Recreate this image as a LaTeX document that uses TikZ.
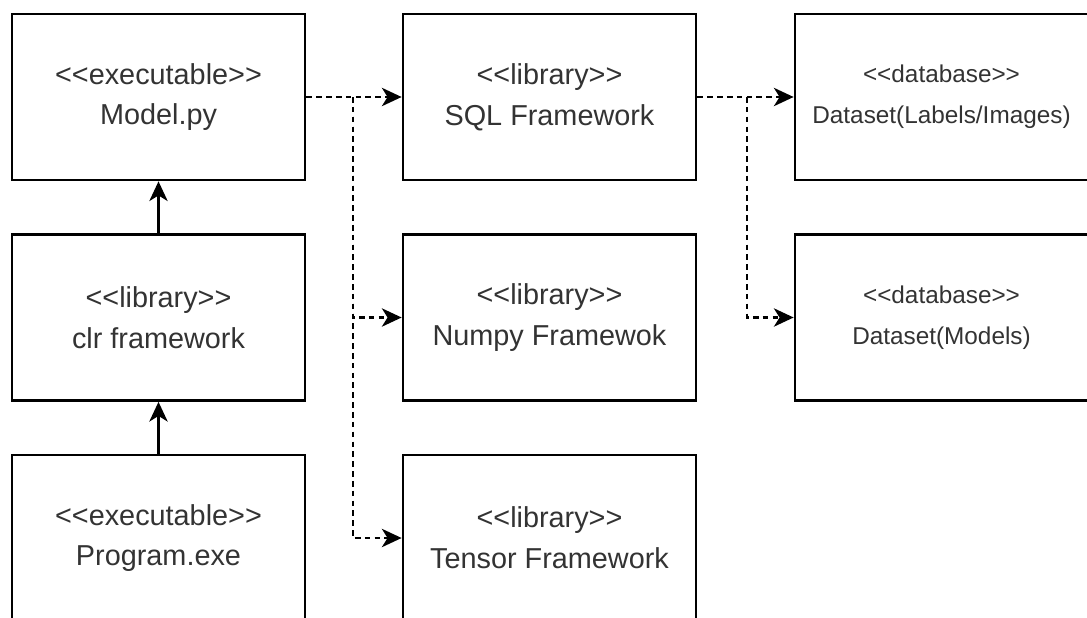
\documentclass[tikz,border=0pt]{standalone}
\usepackage{fontspec}
\setmainfont{Liberation Sans}[Ligatures=TeXOff]
\usetikzlibrary{arrows.meta}
\definecolor{labelgray}{HTML}{333333}

\begin{document}
\begin{tikzpicture}[x=0.025cm, y=0.025cm,
        comp/.style={draw, line width=1.9pt, minimum width=7.325cm, minimum height=4.15cm,
            align=center, text=labelgray, font=\fontsize{20.5}{29}\selectfont},
        db/.style={comp, font=\fontsize{17.3}{29}\selectfont},
        uses/.style={line width=1.8pt, -{Stealth[length=14pt,width=13pt,inset=4pt]}},
        dep/.style={uses, dash pattern=on 4pt off 3pt}]
    \useasboundingbox (0,0) rectangle (1087,-618);
    \clip (0,0) rectangle (1087,-618);

    % executables and libraries
    \node[comp] (model)   at (158.5,-97)    {<<executable>>\\Model.py};
    \node[comp] (clr)     at (158.5,-317.5) {<<library>>\\clr framework};
    \node[comp] (program) at (158.5,-538)   {<<executable>>\\Program.exe};
    \node[comp] (sql)     at (549.5,-97)    {<<library>>\\SQL Framework};
    \node[comp] (numpy)   at (549.5,-317.5) {<<library>>\\Numpy Framewok};
    \node[comp] (tensor)  at (549.5,-538)   {<<library>>\\Tensor Framework};
    % databases
    \node[db] (images) at (941.5,-97)    {<<database>>\\Dataset(Labels/Images)};
    \node[db] (models) at (941.5,-317.5) {<<database>>\\Dataset(Models)};

    \coordinate (j1) at (353,-97);
    \coordinate (j2) at (747,-97);

    \draw[uses] (program) -- (clr);
    \draw[uses] (clr) -- (model);

    \draw[dep] (model) -- (sql);
    \draw[dep] (j1) |- (numpy.west);
    \draw[dep] (j1) |- (tensor.west);
    \draw[dep] (sql) -- (images);
    \draw[dep] (j2) |- (models.west);
\end{tikzpicture}
\end{document}
